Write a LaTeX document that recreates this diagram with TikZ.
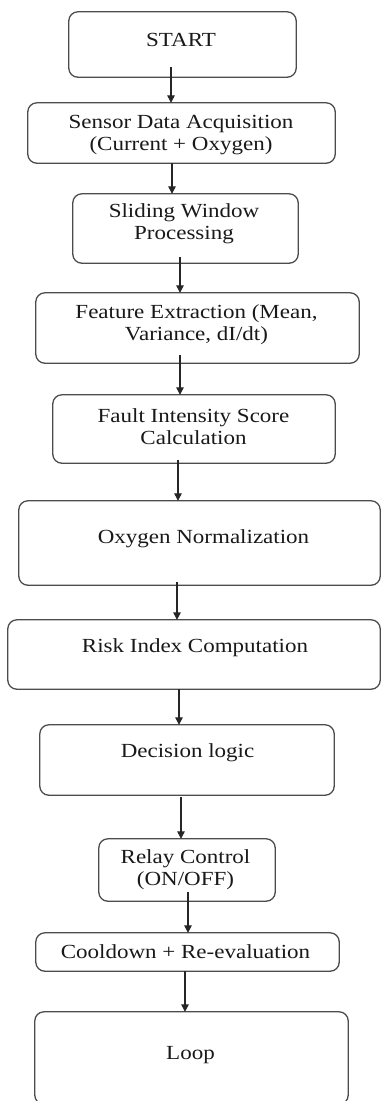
\documentclass[tikz,border=0pt]{standalone}
\usepackage{fontspec}
\setmainfont{Liberation Serif}[FakeStretch=1.15]
\usetikzlibrary{arrows.meta}
\begin{document}
\begin{tikzpicture}[x=1pt,y=-1pt,
  boxstyle/.style={draw=black!70, line width=1.3pt, rounded corners=9pt},
  txt/.style={inner sep=0pt, align=center, text=black!90, font=\fontsize{20}{22}\selectfont},
  arr/.style={draw=black!85, line width=1.2pt, -{Triangle[width=7.5pt,length=7.5pt]}}]
\useasboundingbox (0,0) rectangle (381,1101);
% boxes
\node[inner sep=0, minimum width=227pt, minimum height=65pt] (b1) at (182.5,44.5) {};
\node[inner sep=0, minimum width=307pt, minimum height=60pt] (b2) at (181.5,133) {};
\node[inner sep=0, minimum width=225pt, minimum height=69pt] (b3) at (185.5,228.5) {};
\node[inner sep=0, minimum width=323pt, minimum height=70pt] (b4) at (197.5,328) {};
\node[inner sep=0, minimum width=282pt, minimum height=68pt] (b5) at (194,429) {};
\node[inner sep=0, minimum width=361pt, minimum height=84pt] (b6) at (199.5,543) {};
\node[inner sep=0, minimum width=372pt, minimum height=69pt] (b7) at (194,654.5) {};
\node[inner sep=0, minimum width=294pt, minimum height=70pt] (b8) at (187,760) {};
\node[inner sep=0, minimum width=176pt, minimum height=62pt] (b9) at (187,870) {};
\node[inner sep=0, minimum width=303pt, minimum height=38pt] (b10) at (187.5,952) {};
\node[inner sep=0, minimum width=313pt, minimum height=92pt] (b11) at (191.5,1058) {};
\foreach \b in {b1,b2,b3,b4,b5,b6,b7,b8,b9,b10,b11}
  \draw[boxstyle] (\b.south west) rectangle (\b.north east);
% texts
\node[txt] (t1) at (181,40) {START};
\node[txt] (t2) at (181,135) {Sensor Data Acquisition\\(Current + Oxygen)};
\node[txt] (t3) at (184,224) {Sliding Window\\Processing};
\node[txt] (t4) at (196.5,325) {Feature Extraction (Mean,\\Variance, dI/dt)};
\node[txt] (t5) at (193.5,427) {Fault Intensity Score\\Calculation};
\node[txt] (t6) at (203.5,539) {Oxygen Normalization};
\node[txt] (t7) at (195,648) {Risk Index Computation};
\node[txt] (t8) at (187.5,753) {Decision logic};
\node[txt] (t9) at (185.5,870) {Relay Control\\(ON/OFF)};
\node[txt] (t10) at (185.5,952) {Cooldown + Re-evaluation};
\node[txt] (t11) at (190.5,1055) {Loop};
% arrow starts
\coordinate (s1) at (171,67);
\coordinate (s2) at (172,163);
\coordinate (s3) at (180,257);
\coordinate (s4) at (180,355);
\coordinate (s5) at (178,460);
\coordinate (s6) at (177,582);
\coordinate (s7) at (179,689);
\coordinate (s8) at (181,797);
\coordinate (s9) at (188,892);
\coordinate (s10) at (185,971);
\draw[arr] (s1) -- (s1 |- b2.north);
\draw[arr] (s2) -- (s2 |- b3.north);
\draw[arr] (s3) -- (s3 |- b4.north);
\draw[arr] (s4) -- (s4 |- b5.north);
\draw[arr] (s5) -- (s5 |- b6.north);
\draw[arr] (s6) -- (s6 |- b7.north);
\draw[arr] (s7) -- (s7 |- b8.north);
\draw[arr] (s8) -- (s8 |- b9.north);
\draw[arr] (s9) -- (s9 |- b10.north);
\draw[arr] (s10) -- (s10 |- b11.north);
\end{tikzpicture}
\end{document}
